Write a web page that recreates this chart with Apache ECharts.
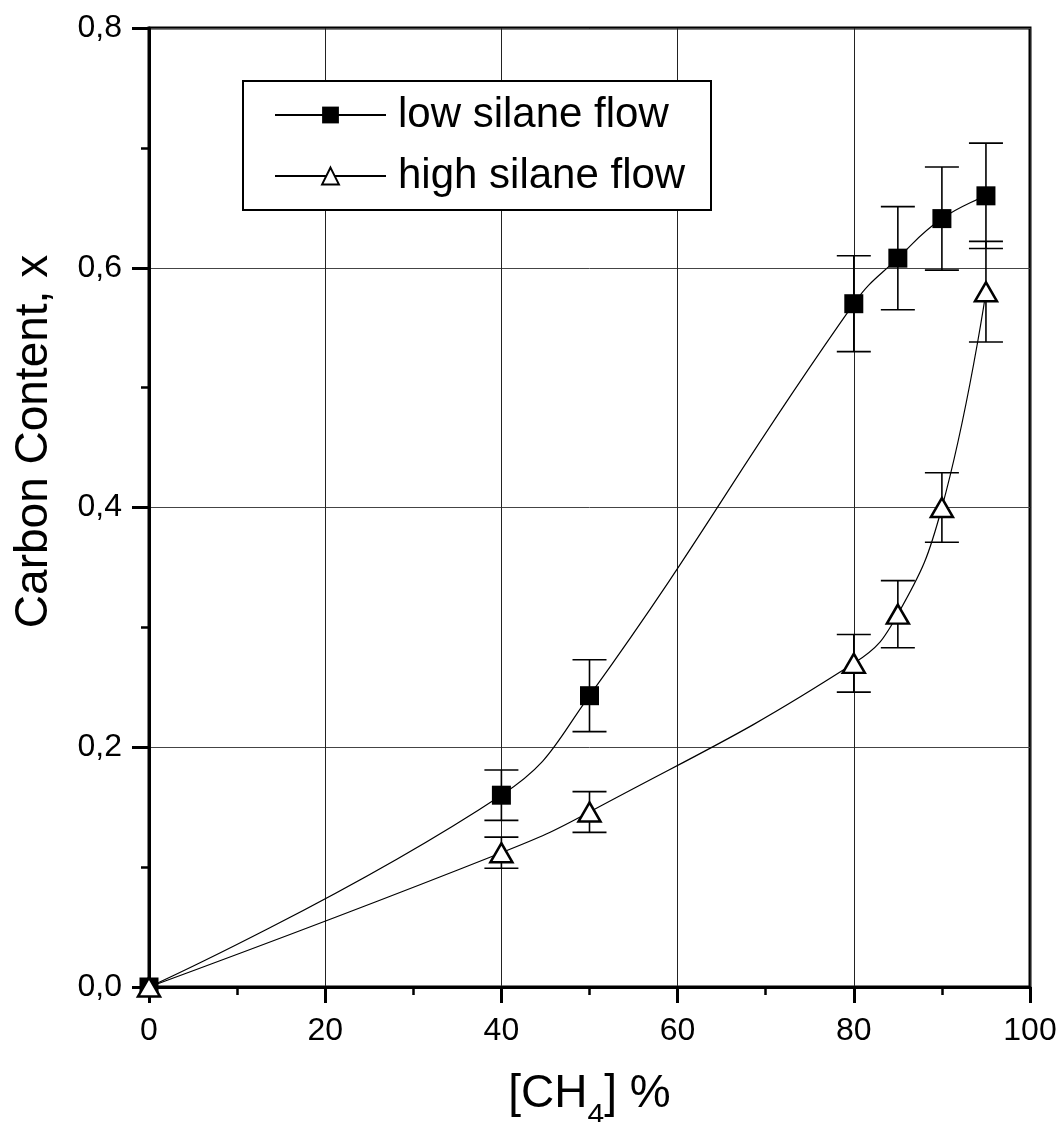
<!DOCTYPE html>
<html>
<head>
<meta charset="utf-8">
<script src="https://cdn.jsdelivr.net/npm/echarts@6/dist/echarts.min.js"></script>
<style>
html,body{margin:0;padding:0;background:#fff;}
#chart{width:1064px;height:1122px;}
</style>
</head>
<body>
<div id="chart"></div>
<script>
// ---- data ----
const xValues = [0, 40, 50, 80, 85, 90, 95];
const lowSilane = [0, 0.160, 0.243, 0.570, 0.608, 0.641, 0.660];
const lowSilaneErr = [0, 0.021, 0.030, 0.040, 0.043, 0.043, 0.044];
const highSilane = [0, 0.112, 0.146, 0.270, 0.311, 0.400, 0.580];
const highSilaneErr = [0, 0.013, 0.017, 0.024, 0.028, 0.029, 0.042];
const seriesNames = ['low silane flow', 'high silane flow'];
const xTitle = '[CH{sub|4}] %';
const yTitle = 'Carbon Content, x';

const FONT = '"Liberation Sans", Arial, Helvetica, sans-serif';

function pairs(xs, ys) { return xs.map((x, i) => [x, ys[i]]); }
function errData(xs, ys, es) {
  return xs.map((x, i) => [x, ys[i] - es[i], ys[i] + es[i]]).filter((d, i) => es[i] > 0);
}
function errRender(params, api) {
  const x = api.value(0);
  const lo = api.coord([x, api.value(1)]);
  const hi = api.coord([x, api.value(2)]);
  const w = 17;
  const st = { stroke: '#000', lineWidth: 1.6 };
  return {
    type: 'group',
    children: [
      { type: 'line', shape: { x1: hi[0], y1: hi[1], x2: lo[0], y2: lo[1] }, style: st },
      { type: 'line', shape: { x1: hi[0] - w, y1: hi[1], x2: hi[0] + w, y2: hi[1] }, style: st },
      { type: 'line', shape: { x1: lo[0] - w, y1: lo[1], x2: lo[0] + w, y2: lo[1] }, style: st }
    ]
  };
}

const chart = echarts.init(document.getElementById('chart'), null, { renderer: 'canvas' });
const axisLabelStyle = { color: '#000', fontSize: 32, fontFamily: FONT };

chart.setOption({
  animation: false,
  backgroundColor: '#fff',
  textStyle: { fontFamily: FONT },
  grid: {
    left: 149, right: 34, top: 28, bottom: 135,
    outerBoundsMode: 'none', containLabel: false,
    show: true, borderColor: '#000', borderWidth: 3, backgroundColor: 'transparent'
  },
  graphic: [{
    type: 'rect', z: 3, left: 242, top: 80,
    shape: { width: 468, height: 129 },
    style: { fill: '#fff', stroke: '#000', lineWidth: 2 }
  }],
  legend: {
    z: 10,
    left: 242, top: 80,
    orient: 'vertical',
    padding: [11, 10, 10, 32],
    itemGap: 13,
    itemWidth: 111,
    itemHeight: 21,
    textStyle: { fontSize: 42, lineHeight: 48, color: '#000', fontFamily: FONT, padding: [0, 0, 0, 7] },
    data: seriesNames
  },
  xAxis: {
    type: 'value', min: 0, max: 100, interval: 20,
    name: xTitle, nameLocation: 'middle', nameGap: 84,
    nameTextStyle: {
      fontSize: 46, color: '#000', fontFamily: FONT,
      rich: { sub: { fontSize: 30, verticalAlign: 'bottom', padding: [0, 0, -14, 0], fontFamily: FONT, color: '#000' } }
    },
    axisLine: { show: true, onZero: false, lineStyle: { color: '#000', width: 3 } },
    axisTick: { show: true, inside: false, length: 16, lineStyle: { color: '#000', width: 3 } },
    minorTick: { show: true, splitNumber: 2, length: 8, lineStyle: { color: '#000', width: 2.5 } },
    axisLabel: Object.assign({ margin: 28 }, axisLabelStyle),
    splitLine: { show: true, lineStyle: { color: '#222', width: 1 } }
  },
  yAxis: {
    type: 'value', min: 0, max: 0.8, interval: 0.2,
    name: yTitle, nameLocation: 'middle', nameGap: 92, nameRotate: 90,
    nameTextStyle: { fontSize: 46, color: '#000', fontFamily: FONT, padding: [0, 0, 0, 132] },
    axisLine: { show: true, onZero: false, lineStyle: { color: '#000', width: 3 } },
    axisTick: { show: true, inside: false, length: 17, lineStyle: { color: '#000', width: 3 } },
    minorTick: { show: true, splitNumber: 2, length: 8, lineStyle: { color: '#000', width: 2.5 } },
    axisLabel: Object.assign({ margin: 27, formatter: v => v.toFixed(1).replace('.', ',') }, axisLabelStyle),
    splitLine: { show: true, lineStyle: { color: '#444', width: 1 } }
  },
  series: [
    {
      name: 'lowErr', type: 'custom', z: 3, silent: true,
      renderItem: errRender, data: errData(xValues, lowSilane, lowSilaneErr)
    },
    {
      name: 'highErr', type: 'custom', z: 3, silent: true,
      renderItem: errRender, data: errData(xValues, highSilane, highSilaneErr)
    },
    {
      name: seriesNames[0], type: 'line', z: 5, smooth: 0.45,
      data: pairs(xValues, lowSilane),
      symbol: 'rect', symbolSize: 19,
      lineStyle: { color: '#000', width: 1.2 },
      itemStyle: { color: '#000', borderColor: '#000', borderWidth: 0 }
    },
    {
      name: seriesNames[1], type: 'line', z: 6, smooth: 0.45,
      data: pairs(xValues, highSilane),
      symbol: 'triangle', symbolSize: [22, 19],
      lineStyle: { color: '#000', width: 1.2 },
      itemStyle: { color: '#fff', borderColor: '#000', borderWidth: 2.5 }
    }
  ]
});
</script>
</body>
</html>
